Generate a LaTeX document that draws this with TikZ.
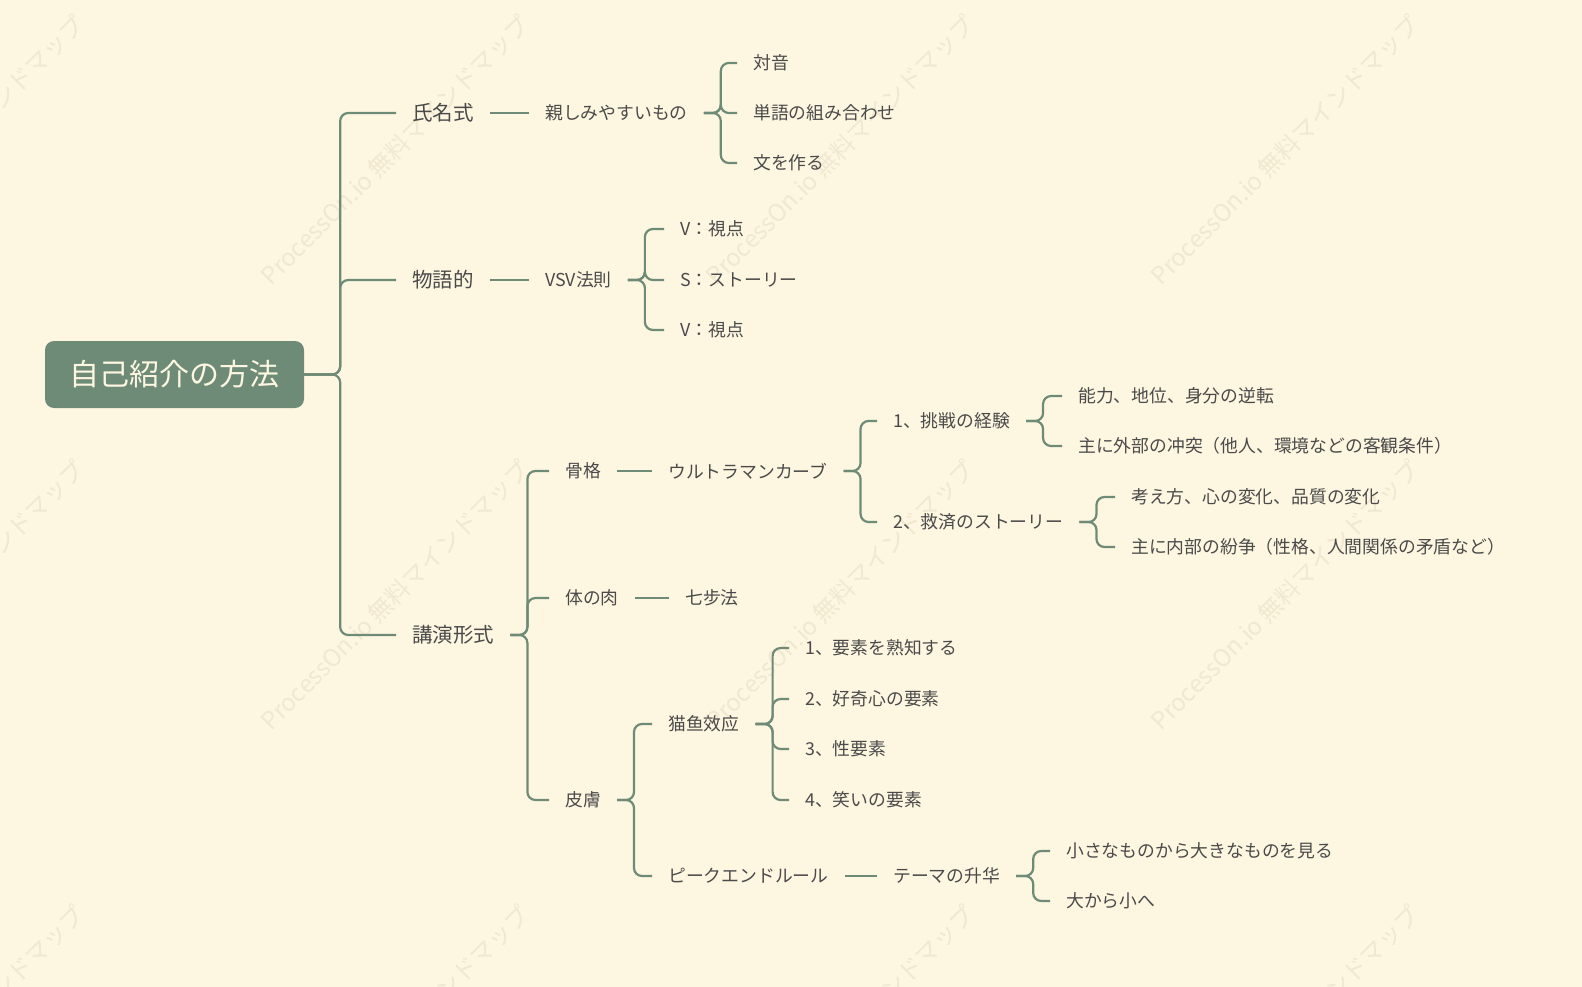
\documentclass[tikz,border=0pt]{standalone}
\usepackage{fontspec}
\setmainfont{Noto Sans CJK JP}
\definecolor{bg}{HTML}{FDF6E1}
\definecolor{ln}{HTML}{6E8B78}
\definecolor{tx}{HTML}{4A4A4A}
\definecolor{wm}{HTML}{F1E8D2}
\begin{document}
\begin{tikzpicture}[x=1pt,y=-1pt,
  t/.style={anchor=west,inner xsep=16pt,inner ysep=2pt,text=tx,font=\fontsize{17.8}{21}\selectfont},
  t1/.style={t,font=\fontsize{20.5}{24}\selectfont},
  wmark/.style={text=wm,rotate=45,font=\fontsize{24}{28}\selectfont},
  c/.style={draw=ln,line width=2.2pt,rounded corners=8pt}]
\fill[bg] (0,0) rectangle (1582,987);
\useasboundingbox (0,0) rectangle (1582,987);
\begin{scope}
\clip (0,0) rectangle (1582,987);
\foreach \x in {-50,395,840,1285}{\foreach \y in {150,595,1040}{
  \node[wmark] (w\x\y) at (\x,\y) {ProcessOn.io 無料マインドマップ};}}
\end{scope}
\node[fill=ln,rounded corners=9pt,minimum width=259pt,minimum height=67pt,text=bg,font=\fontsize{30}{34}\selectfont] (root) at (174.5,374.5) {自己紹介の方法};
% level 1
\node[t1] (a) at (396,113) {氏名式};
\node[t1] (b) at (396,280) {物語的};
\node[t1] (c) at (396,635) {講演形式};
\draw[c] (root.east) -- ++(36,0) |- (a.west);
\draw[c] (root.east) -- ++(36,0) |- (b.west);
\draw[c] (root.east) -- ++(36,0) |- (c.west);
% a
\node[t] (a1) at (529,113) {親しみやすいもの};
\draw[c] (a.east) -- (a1.west);
\node[t] (a11) at (737,63) {対音};
\node[t] (a12) at (737,113) {単語の組み合わせ};
\node[t] (a13) at (737,163) {文を作る};
\foreach \n in {a11,a12,a13}{\draw[c] (a1.east) -- ++(17,0) |- (\n.west);}
% b
\node[t] (b1) at (529,280) {VSV法則};
\draw[c] (b.east) -- (b1.west);
\node[t] (b11) at (664,229) {V：視点};
\node[t] (b12) at (664,280) {S：ストーリー};
\node[t] (b13) at (664,330) {V：視点};
\foreach \n in {b11,b12,b13}{\draw[c] (b1.east) -- ++(17,0) |- (\n.west);}
% c
\node[t] (c1) at (549,471) {骨格};
\node[t] (c2) at (549,598) {体の肉};
\node[t] (c3) at (549,800) {皮膚};
\foreach \n in {c1,c2,c3}{\draw[c] (c.east) -- ++(17,0) |- (\n.west);}
\node[t] (c11) at (652,471) {ウルトラマンカーブ};
\draw[c] (c1.east) -- (c11.west);
\node[t] (d1) at (877,421) {1、挑戦の経験};
\node[t] (d2) at (877,522) {2、救済のストーリー};
\foreach \n in {d1,d2}{\draw[c] (c11.east) -- ++(17,0) |- (\n.west);}
\node[t] (d11) at (1062,396) {能力、地位、身分の逆転};
\node[t] (d12) at (1062,446) {主に外部の冲突（他人、環境などの客観条件）};
\foreach \n in {d11,d12}{\draw[c] (d1.east) -- ++(17,0) |- (\n.west);}
\node[t] (d21) at (1115,497) {考え方、心の変化、品質の変化};
\node[t] (d22) at (1115,547) {主に内部の紛争（性格、人間関係の矛盾など）};
\foreach \n in {d21,d22}{\draw[c] (d2.east) -- ++(17,0) |- (\n.west);}
\node[t] (c21) at (669,598) {七步法};
\draw[c] (c2.east) -- (c21.west);
\node[t] (e1) at (652,724) {猫鱼效应};
\node[t] (e2) at (652,876) {ピークエンドルール};
\foreach \n in {e1,e2}{\draw[c] (c3.east) -- ++(17,0) |- (\n.west);}
\node[t] (e11) at (789,648) {1、要素を熟知する};
\node[t] (e12) at (789,699) {2、好奇心の要素};
\node[t] (e13) at (789,749) {3、性要素};
\node[t] (e14) at (789,800) {4、笑いの要素};
\foreach \n in {e11,e12,e13,e14}{\draw[c] (e1.east) -- ++(17,0) |- (\n.west);}
\node[t] (e21) at (877,876) {テーマの升华};
\draw[c] (e2.east) -- (e21.west);
\node[t] (f1) at (1050,851) {小さなものから大きなものを見る};
\node[t] (f2) at (1050,901) {大から小へ};
\foreach \n in {f1,f2}{\draw[c] (e21.east) -- ++(17,0) |- (\n.west);}
\end{tikzpicture}
\end{document}
